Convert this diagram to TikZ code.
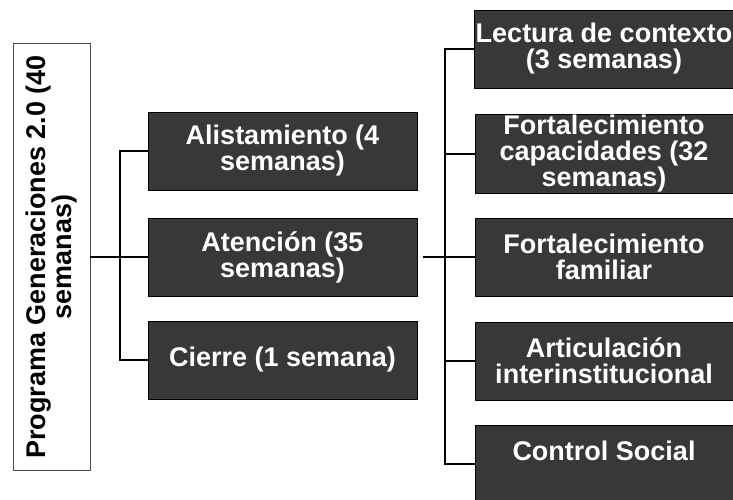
\documentclass[tikz,border=0pt]{standalone}
\usepackage{fontspec}
\setmainfont{Liberation Sans}
\usetikzlibrary{positioning}

\tikzset{
  fase/.style={draw=black, line width=1pt, fill=black!78, text=white,
    font=\bfseries\fontsize{27}{26}\selectfont, align=center,
    inner sep=1pt, minimum height=78pt},
  enlace/.style={line width=1.8pt},
}

\begin{document}
\begin{tikzpicture}[x=1pt,y=-1pt]
  \useasboundingbox (0,0) rectangle (733,499);

  \node[draw=black!70, line width=0.8pt, rotate=90, minimum width=427pt,
    minimum height=77pt, align=center,
    font=\bfseries\fontsize{27}{26}\selectfont] (prog) at (51.5,257)
    {Programa Generaciones 2.0 (40\\semanas)};

  \node[fase, minimum width=269pt] (ali) at (282.5,151) {Alistamiento (4\\semanas)};
  \node[fase, minimum width=269pt] (ate) at (282.5,257) {Atención (35\\semanas)};
  \node[fase, minimum width=269pt] (cie) at (282.5,360) {Cierre (1 semana)};

  \foreach \nm/\y/\txt in {lec/49/{Lectura de contexto\\(3 semanas)},
      cap/154/{Fortalecimiento\\capacidades (32\\semanas)},
      fam/257/{Fortalecimiento\\familiar},
      art/361/{Articulación\\interinstitucional},
      con/464/{Control Social\\ \mbox{}}}
  {
    \node[fase, minimum width=258pt] (\nm) at (604,\y) {\txt};
  }

  \coordinate (bi) at (120,0);
  \coordinate (bd) at (445,0);

  \draw[enlace] (prog.south) -- (ate.west);
  \draw[enlace] (ali.west) -| (bi |- cie.west) -- (cie.west);

  \draw[enlace, shorten <=5pt] (ate.east) -- (fam.west);
  \draw[enlace] (lec.west) -| (bd |- con.west) -- (con.west);
  \foreach \nm in {cap,art}
    \draw[enlace] (bd |- \nm.west) -- (\nm.west);
\end{tikzpicture}
\end{document}
